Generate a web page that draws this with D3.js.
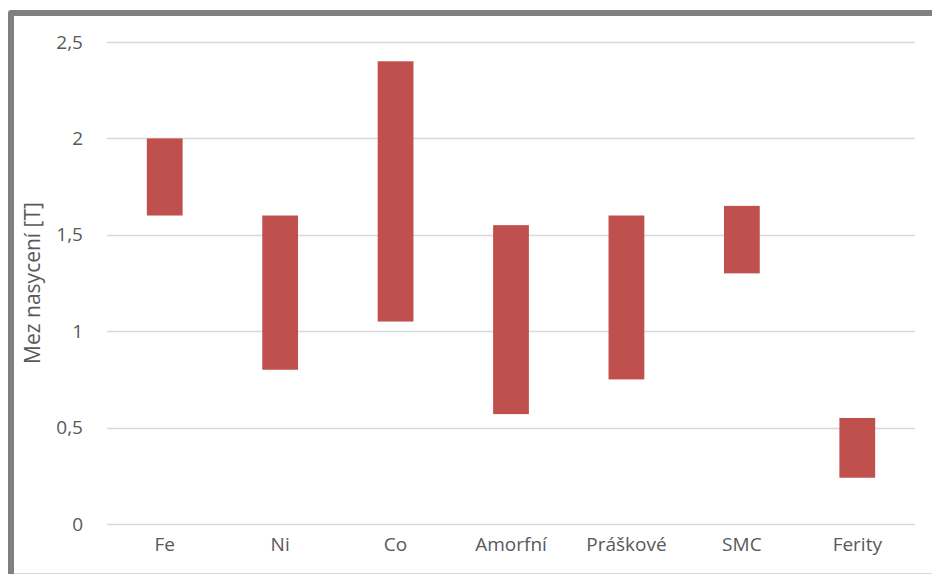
<!DOCTYPE html>
<html>
<head>
<meta charset="utf-8">
<script src="https://cdn.jsdelivr.net/npm/d3@7"></script>
<style>
  body { margin: 0; background: #fff; }
  svg { display: block; font-family: "Open Sans", "Noto Sans", sans-serif; }
</style>
</head>
<body>
<svg id="chart"></svg>
<script>
// chart data
const categories = ["Fe", "Ni", "Co", "Amorfní", "Práškové", "SMC", "Ferity"];
const lowValues = [1.6, 0.8, 1.05, 0.57, 0.75, 1.3, 0.24];
const highValues = [2.0, 1.6, 2.4, 1.55, 1.6, 1.65, 0.55];
const yTicks = [0, 0.5, 1, 1.5, 2, 2.5];
const yTitle = "Mez nasycení [T]";

const width = 932,
    height = 574;

// plot area
const xStart = 107,
    xEnd = 915,
    yStart = 524,
    yEnd = 42;

const svg = d3.select("#chart")
    .attr("width", width)
    .attr("height", height);

// chart frame (only left and top edges are visible)
svg.append("path")
    .attr("d", "M11," + height + " L11,13 L" + width + ",13")
    .style("fill", "none")
    .style("stroke", "#808080")
    .style("stroke-width", 6)
    .style("stroke-linejoin", "round");
svg.append("line")
    .attr("x1", 14).attr("x2", width)
    .attr("y1", 573.5).attr("y2", 573.5)
    .style("stroke", "#d9d9d9")
    .style("stroke-width", 1);

const x = d3.scaleBand()
    .domain(categories)
    .range([xStart, xEnd])
    .paddingInner(0.69)
    .paddingOuter(0.345);

const y = d3.scaleLinear()
    .domain([0, 2.5])
    .range([yStart, yEnd]);

// gridlines
svg.append("g")
    .selectAll("line")
    .data(yTicks)
    .enter()
    .append("line")
    .attr("x1", xStart)
    .attr("x2", xEnd)
    .attr("y1", d => Math.round(y(d)) + 0.5)
    .attr("y2", d => Math.round(y(d)) + 0.5)
    .style("stroke", "#d9d9d9")
    .style("stroke-width", 1.5);

// y axis labels
const fmt = d => String(d).replace(".", ",");
const yAxis = d3.axisLeft(y)
    .tickValues(yTicks)
    .tickFormat(fmt)
    .tickSize(0)
    .tickPadding(24);

svg.append("g")
    .attr("transform", "translate(" + xStart + ",0)")
    .call(yAxis)
    .call(g => g.select(".domain").remove())
    .call(g => g.selectAll("text")
        .style("font-size", "19px")
        .style("fill", "#595959")
        .style("font-family", "\"Open Sans\", sans-serif"));

// x axis labels
const xAxis = d3.axisBottom(x)
    .tickSize(0)
    .tickPadding(14);

svg.append("g")
    .attr("transform", "translate(0," + yStart + ")")
    .call(xAxis)
    .call(g => g.select(".domain").remove())
    .call(g => g.selectAll("text")
        .style("font-size", "19px")
        .style("fill", "#595959")
        .style("font-family", "\"Open Sans\", sans-serif"));

// floating bars
const bars = categories.map((c, i) => ({ cat: c, lo: lowValues[i], hi: highValues[i] }));
svg.append("g")
    .selectAll("rect")
    .data(bars)
    .enter()
    .append("rect")
    .attr("x", d => x(d.cat))
    .attr("width", x.bandwidth())
    .attr("y", d => y(d.hi))
    .attr("height", d => y(d.lo) - y(d.hi))
    .style("fill", "#c0504d");

// y axis title
svg.append("text")
    .attr("transform", "translate(40," + ((yStart + yEnd) / 2) + ") rotate(-90)")
    .attr("text-anchor", "middle")
    .style("font-size", "21px")
    .style("fill", "#595959")
    .text(yTitle);
</script>
</body>
</html>
